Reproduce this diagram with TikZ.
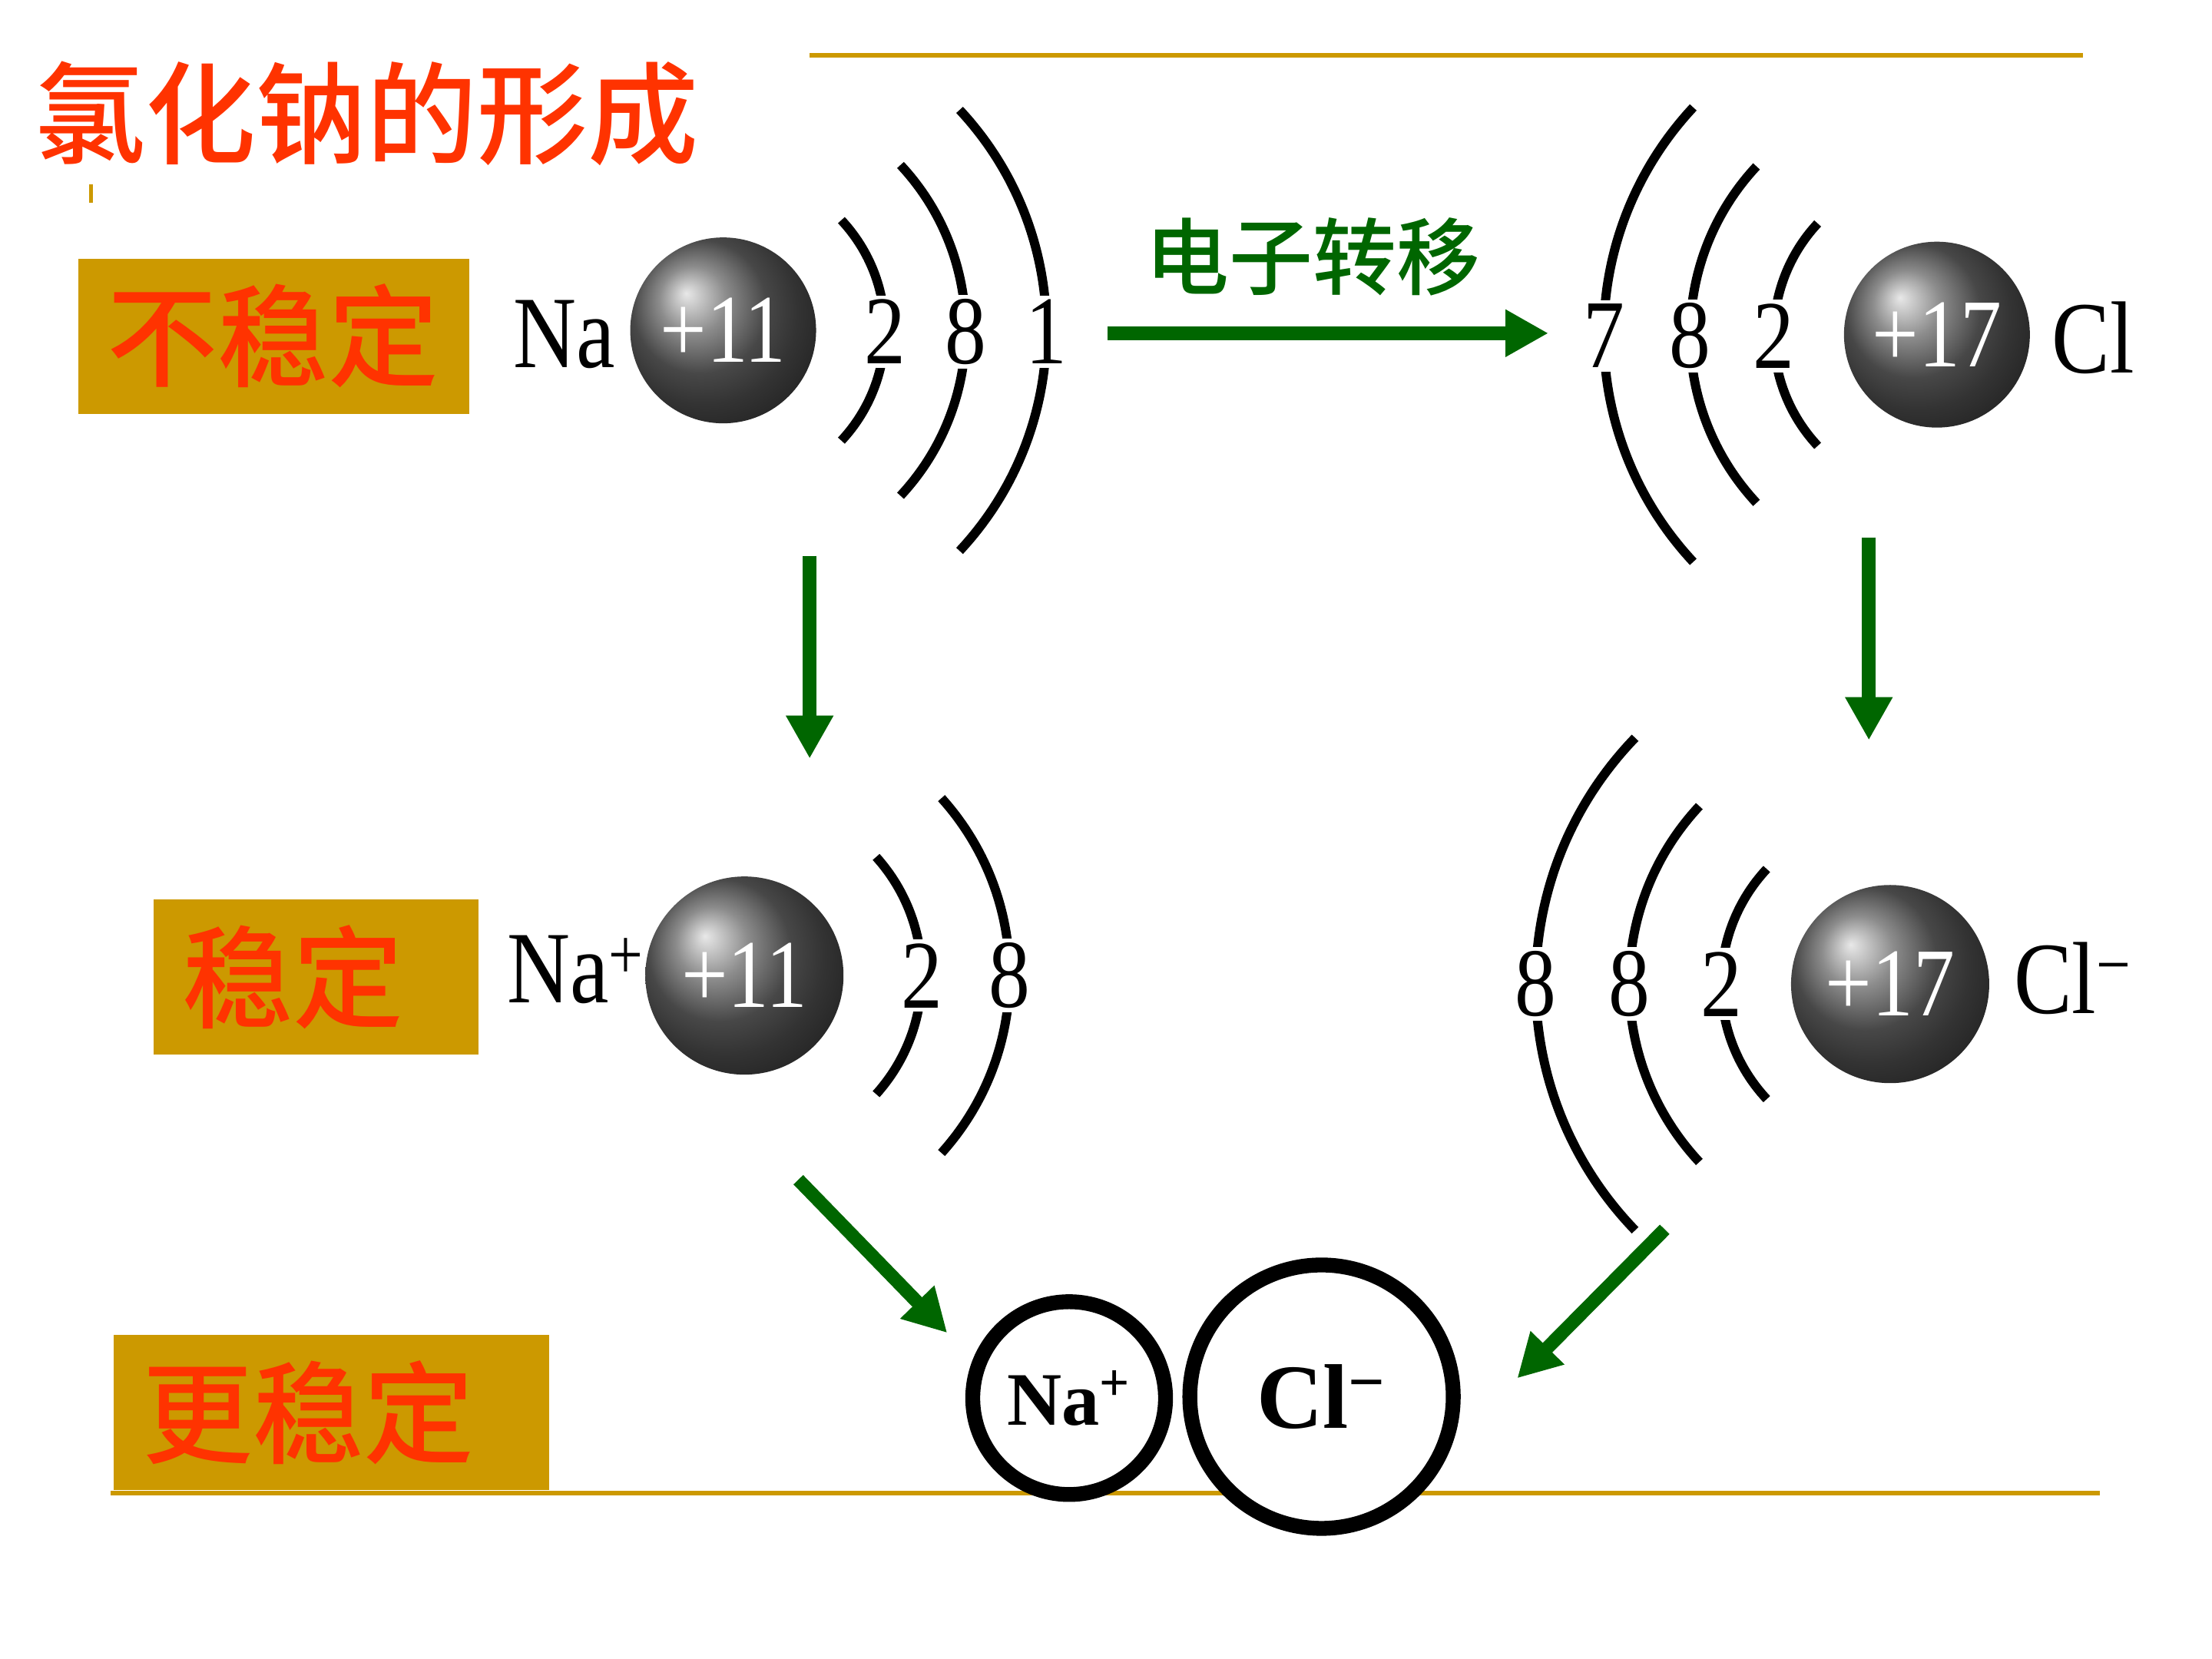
\documentclass[tikz,border=0pt]{standalone}
\usepackage{fontspec}
\setmainfont{Liberation Serif}
\newfontfamily\numfont[FakeStretch=0.85]{Liberation Serif}
\newfontfamily\cjk{Noto Sans CJK SC}[UprightFont={* Medium}]
\usetikzlibrary{positioning,arrows.meta}
\definecolor{gold}{RGB}{204,153,0}
\definecolor{redtxt}{RGB}{255,51,0}
\definecolor{greenarr}{RGB}{0,102,0}

\begin{document}
\begin{tikzpicture}[x=0.01846cm, y=-0.01846cm,
    shell/.style={line width=3.4pt},
    num/.style={fill=white, inner sep=1.5pt, font=\numfont\fontsize{36pt}{36pt}\selectfont},
    sym/.style={inner sep=0pt, font=\numfont\fontsize{38pt}{38pt}\selectfont},
    nucleus/.style={circle, shading=ball, ball color=black!60, text=white, inner sep=0pt,
      minimum size=2.42cm, font=\numfont\fontsize{36pt}{36pt}\selectfont},
    tag/.style={fill=gold, text=redtxt, anchor=west, align=left, inner xsep=0.37cm,
      minimum height=2.02cm, font=\cjk\fontsize{41pt}{41pt}\selectfont},
    trans/.style={line width=5pt, greenarr, -{Triangle[length=0.56cm,width=0.58cm]}},
    ion/.style={circle, draw, line width=5.5pt, fill=white, inner sep=0pt}]
    \useasboundingbox (0,0) rectangle (1560,1170);

    % title and rules
    \node[anchor=west, inner sep=0pt, text=redtxt, font=\cjk\fontsize{41pt}{41pt}\selectfont] (title) at (24,80) {氯化钠的形成};
    \draw[gold, line width=1.5pt] (64,130) -- (64,143);
    \draw[gold, line width=1.6pt] (571,39) -- (1469,39);
    \draw[gold, line width=1.6pt] (78,1053) -- (1481,1053);

    \node[tag, text width=4.35cm] (unstable) at (55,237) {不稳定};
    \node[tag, text width=3.49cm] (stable) at (108,689) {稳定};
    \node[tag, text width=4.93cm] (morestable) at (80,996) {更稳定};

    % Na atom
    \node[nucleus] (na) at (510,233) {+11};
    \node[sym] (nasym) at (398,236) {Na};
    \draw[shell] (na.center) ++(-43:114) arc[start angle=-43, end angle=43, radius=114];
    \draw[shell] (na.center) ++(-43:171) arc[start angle=-43, end angle=43, radius=171];
    \draw[shell] (na.center) ++(-43:228) arc[start angle=-43, end angle=43, radius=228];
    \node[num] (na1) at (624,234) {2};
    \node[num] (na2) at (681,234) {8};
    \node[num] (na3) at (738,234) {1};

    % Cl atom
    \node[nucleus] (cl) at (1366,236) {+17};
    \node[sym] (clsym) at (1476,238) {Cl};
    \draw[shell] (cl.center) ++(137:115) arc[start angle=137, end angle=223, radius=115];
    \draw[shell] (cl.center) ++(137:174) arc[start angle=137, end angle=223, radius=174];
    \draw[shell] (cl.center) ++(137:235) arc[start angle=137, end angle=223, radius=235];
    \node[num] (cl1) at (1251,237) {2};
    \node[num] (cl2) at (1192,237) {8};
    \node[num] (cl3) at (1131,237) {7};

    % Na+ ion
    \node[nucleus, minimum size=2.58cm] (nap) at (525,688) {+11};
    \node[sym] (napsym) at (406,684) {Na\textsuperscript{+}};
    \draw[shell] (nap.center) ++(-42:125) arc[start angle=-42, end angle=42, radius=125];
    \draw[shell] (nap.center) ++(-42:187) arc[start angle=-42, end angle=42, radius=187];
    \node[num] (nap1) at (650,688) {2};
    \node[num] (nap2) at (712,688) {8};

    % Cl- ion
    \node[nucleus, minimum size=2.58cm] (clm) at (1333,694) {+17};
    \node[sym] (clmsym) at (1462,690) {Cl\textsuperscript{−}};
    \draw[shell] (clm.center) ++(137:119) arc[start angle=137, end angle=223, radius=119];
    \draw[shell] (clm.center) ++(137:184) arc[start angle=137, end angle=223, radius=184];
    \draw[shell] (clm.center) ++(136:250) arc[start angle=136, end angle=224, radius=250];
    \node[num] (clm1) at (1214,694) {2};
    \node[num] (clm2) at (1149,694) {8};
    \node[num] (clm3) at (1083,694) {8};

    % product
    \node[ion, minimum size=2.51cm, font=\bfseries\fontsize{28pt}{28pt}\selectfont] (bna) at (754,986) {Na\textsuperscript{+}};
    \node[ion, minimum size=3.43cm, font=\bfseries\fontsize{34pt}{34pt}\selectfont] (bcl) at (932,985) {Cl\textsuperscript{−}};

    % arrows
    \node[text=greenarr, font=\cjk\fontsize{31pt}{31pt}\selectfont] (move) at (926,181) {电子转移};
    \coordinate (h0) at (781,235);
    \coordinate (h1) at (1092,235);
    \coordinate (l0) at (571,392);
    \coordinate (l1) at (571,535);
    \coordinate (r0) at (1318,379);
    \coordinate (r1) at (1318,522);
    \coordinate (dl0) at (563,832);
    \coordinate (dl1) at (668,940);
    \coordinate (dr0) at (1174,867);
    \coordinate (dr1) at (1070,972);

    \draw[trans] (h0) -- (h1);
    \draw[trans] (l0) -- (l1);
    \draw[trans] (r0) -- (r1);
    \draw[trans] (dl0) -- (dl1);
    \draw[trans] (dr0) -- (dr1);
\end{tikzpicture}
\end{document}
